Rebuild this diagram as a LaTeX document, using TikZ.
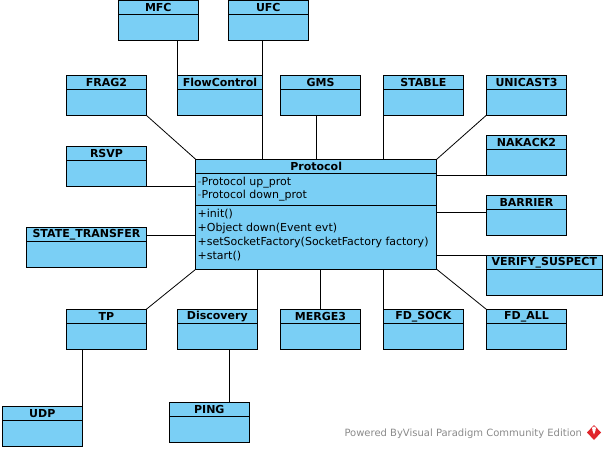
\documentclass[tikz,border=0pt]{standalone}
\usepackage{fontspec}
\setmainfont{DejaVu Sans}
\definecolor{clsfill}{HTML}{7ACFF5}
\definecolor{wmgray}{HTML}{8A8A8A}
\definecolor{vpred}{HTML}{E0262C}
\tikzset{
  cls/.style={draw=black, line width=1pt, fill=clsfill, rectangle, minimum height=40pt, inner sep=0pt, outer sep=0pt, anchor=north west},
  hdr/.style={font=\bfseries\fontsize{11}{13}\selectfont, inner sep=0pt},
  attr/.style={font=\fontsize{11}{13}\selectfont, inner sep=0pt, anchor=west},
  conn/.style={draw=black, line width=0.8pt},
}
\newcommand\umlclass[5]{%
  \node[cls, minimum width=#4pt] (#1) at (#2,#3) {};
  \draw[line width=1pt] ([yshift=-14pt]#1.north west) -- ([yshift=-14pt]#1.north east);
  \node[hdr] at ([yshift=-7pt]#1.north) {#5};
}
\begin{document}
\begin{tikzpicture}[x=1pt,y=-1pt]
\useasboundingbox (0,0) rectangle (606,450);
% classes
\umlclass{mfc}{118.3}{0.3}{80}{MFC}
\umlclass{ufc}{228.3}{0.3}{80}{UFC}
\umlclass{frag2}{66.7}{75.3}{79.6}{FRAG2}
\umlclass{flow}{177.3}{75.3}{85.4}{FlowControl}
\umlclass{gms}{280.7}{75.3}{79.6}{GMS}
\umlclass{stable}{383.3}{75.3}{80}{STABLE}
\umlclass{unicast}{486.3}{75.3}{80.4}{UNICAST3}
\umlclass{rsvp}{66.7}{146.3}{79.6}{RSVP}
\umlclass{nakack}{486.3}{135.3}{80.4}{NAKACK2}
\umlclass{barrier}{486.3}{195.3}{80.4}{BARRIER}
\umlclass{st}{26.7}{227.7}{119.6}{STATE\_TRANSFER}
\umlclass{vs}{486.3}{255.3}{116}{VERIFY\_SUSPECT}
\umlclass{tp}{66.7}{309.3}{79.6}{TP}
\umlclass{disc}{177.3}{309.3}{80}{Discovery}
\umlclass{merge}{280.7}{309.3}{79.6}{MERGE3}
\umlclass{fdsock}{383.3}{309.3}{80}{FD\_SOCK}
\umlclass{fdall}{486.3}{309.3}{80.4}{FD\_ALL}
\umlclass{udp}{2.3}{406.3}{80}{UDP}
\umlclass{ping}{169.3}{402.3}{80}{PING}
% Protocol class
\node[cls, minimum width=241pt, minimum height=110pt] (proto) at (195.7,159.3) {};
\draw[line width=1pt] ([yshift=-14pt]proto.north west) -- ([yshift=-14pt]proto.north east);
\draw[line width=1pt] ([yshift=-46pt]proto.north west) -- ([yshift=-46pt]proto.north east);
\node[hdr] (protoname) at ([yshift=-7pt]proto.north) {Protocol};
\node[attr] (a1) at (197.5,182.3) {\textcolor{black!60}{-}Protocol up\_prot};
\node[attr] (a2) at (197.5,195.9) {\textcolor{black!60}{-}Protocol down\_prot};
\node[attr] (o1) at (197.5,214.2) {+init()};
\node[attr] (o2) at (197.5,228.3) {+Object down(Event evt)};
\node[attr] (o3) at (197.5,242.3) {+setSocketFactory(SocketFactory factory)};
\node[attr] (o4) at (197.5,256.3) {+start()};
% connectors
\draw[conn] (flow.north west |- mfc.south) -- (flow.north west);
\draw[conn] (flow.north east |- ufc.south) -- (flow.north east);
\draw[conn] (flow.south east) -- (flow.south east |- proto.north);
\draw[conn] (gms.south -| proto.north) -- (proto.north);
\draw[conn] (stable.south west) -- (stable.south west |- proto.north);
\draw[conn] (unicast.south west) -- (proto.north east);
\draw[conn] (frag2.south east) -- (proto.north west);
\draw[conn] (rsvp.south east) -- (rsvp.south east -| proto.west);
\draw[conn] ([yshift=-7.6pt]st.north east) coordinate (stc) -- (stc -| proto.west);
\draw[conn] (nakack.south west) -- (nakack.south west -| proto.east);
\draw[conn] ([yshift=-17pt]barrier.north west) coordinate (bac) -- (bac -| proto.east);
\draw[conn] (vs.north west) -- (vs.north west -| proto.east);
\draw[conn] (proto.south east) -- (fdall.north west);
\draw[conn] (fdsock.north west) -- (fdsock.north west |- proto.south);
\draw[conn] (merge.north) -- (merge.north |- proto.south);
\draw[conn] (disc.north east) -- (disc.north east |- proto.south);
\draw[conn] (tp.north east) -- (proto.south west);
\draw[conn] (udp.north east) -- (udp.north east |- tp.south);
\draw[conn] ([xshift=20pt]ping.north) coordinate (pc) -- (pc |- disc.south);
% watermark
\node[font=\fontsize{10}{12}\selectfont, text=wmgray, inner sep=0pt, anchor=west] (wm) at (344.3,433.5) {Powered ByVisual Paradigm Community Edition};
\fill[vpred] (594,425) -- (601,432.5) -- (594,440) -- (587,432.5) -- cycle;
\fill[white] (594,428.5) circle (2pt);
\fill[white] (592.3,430) -- (595.7,430) -- (594,434.5) -- cycle;
\end{tikzpicture}
\end{document}
